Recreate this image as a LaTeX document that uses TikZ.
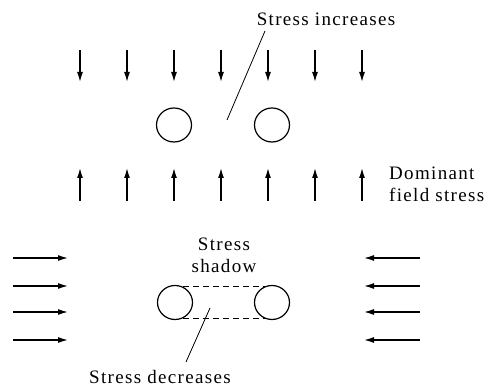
\documentclass[tikz,border=0pt]{standalone}
\usepackage{fontspec}
\setmainfont{Liberation Serif}[LetterSpace=7]
\usetikzlibrary{arrows.meta,shapes.geometric}
\begin{document}
\begin{tikzpicture}[x=1pt,y=-1pt,
  farrow/.style={line width=1.3pt,-{Latex[length=10pt,width=6pt]}},
  hole/.style={draw,line width=1.2pt,ellipse,minimum width=35pt,minimum height=34pt,inner sep=0pt},
  lbl/.style={font=\fontsize{19}{23}\selectfont,inner sep=0pt},
  lead/.style={line width=0.8pt},
  shadowline/.style={line width=0.9pt,dash pattern=on 6pt off 4pt}]
\useasboundingbox (0,0) rectangle (488,387);
% top row: down arrows and up arrows
\foreach \i/\x in {1/80,2/127,3/174,4/221,5/268,6/315,7/362}{
  \coordinate (ds\i) at (\x,50);
  \coordinate (de\i) at (\x,82);
  \draw[farrow] (ds\i) -- (de\i);
  \coordinate (us\i) at (\x,201);
  \coordinate (ue\i) at (\x,168);
  \draw[farrow] (us\i) -- (ue\i);
}
% top holes
\node[hole] (h1) at (174,125) {};
\node[hole] (h2) at (272,125) {};
\node[lbl,anchor=base] (inc) at (326,26) {Stress increases};
\coordinate (incA) at (265,31);
\coordinate (incB) at (227,120);
\draw[lead] (incA) -- (incB);
\node[lbl,anchor=base west] (dom) at (389,180) {Dominant};
\node[lbl,anchor=base west] (fld) at (389,202) {field stress};
% bottom: horizontal arrows
\foreach \i/\y in {1/258,2/286,3/312,4/340}{
  \coordinate (ls\i) at (13,\y);
  \coordinate (le\i) at (68,\y);
  \draw[farrow] (ls\i) -- (le\i);
  \coordinate (rs\i) at (420,\y);
  \coordinate (re\i) at (364,\y);
  \draw[farrow] (rs\i) -- (re\i);
}
\node[hole] (b1) at (175,302.5) {};
\node[hole] (b2) at (272,302.5) {};
\coordinate (t1) at (183,286);
\coordinate (t2) at (266,286);
\coordinate (u1) at (183,318.5);
\coordinate (u2) at (266,318.5);
\draw[shadowline] (t1) -- (t2);
\draw[shadowline] (u1) -- (u2);
\node[lbl,anchor=base] (sh1) at (224,251) {Stress};
\node[lbl,anchor=base] (sh2) at (224,273) {shadow};
\coordinate (decA) at (210,308);
\coordinate (decB) at (186,362);
\draw[lead] (decA) -- (decB);
\node[lbl,anchor=base] (dec) at (160,384) {Stress decreases};
\end{tikzpicture}
\end{document}
